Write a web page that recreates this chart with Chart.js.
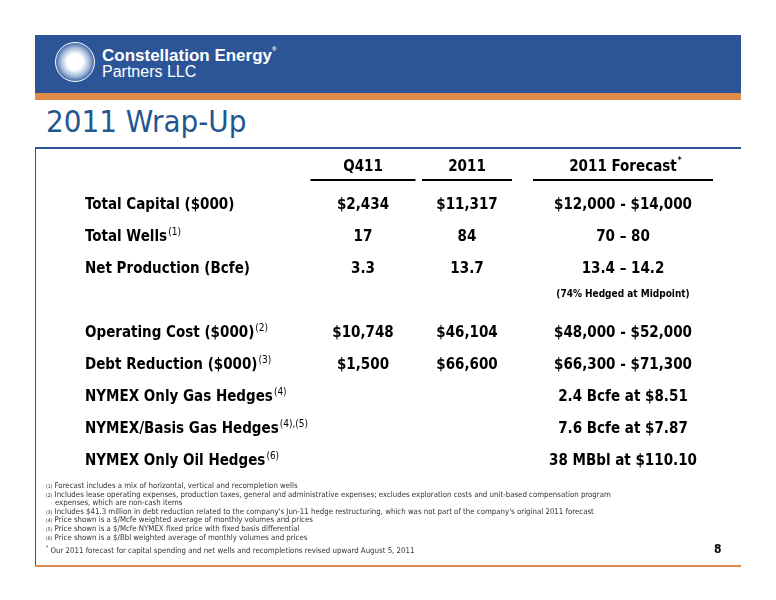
<!DOCTYPE html>
<html>
<head>
<meta charset="utf-8">
<script src="https://cdn.jsdelivr.net/npm/chart.js@4.4.0/dist/chart.umd.min.js"></script>
<style>
body { margin:0; background:#fff; font-family:"DejaVu Sans Condensed","DejaVu Sans",sans-serif; }
#slide { position:relative; width:776px; height:600px; overflow:hidden; }
.abs { position:absolute; }
#hdr { left:35px; top:35px; width:706px; height:58px; background:#2b5597; }
#stripe { left:35px; top:93px; width:706px; height:7px; background:#e08a4a; }
#title { left:46px; top:103px; font-size:31px; color:#1f5791; font-family:"DejaVu Sans Condensed","DejaVu Sans",sans-serif; }
#tline { left:35px; top:147px; width:706px; height:2px; background:#2b5597; }
#lborder { left:35px; top:149px; width:1px; height:417px; background:#2b5597; }
#bline { left:35px; top:565px; width:706px; height:2px; background:#e08a4a; }
#logo { left:55px; top:42px; width:40px; height:40px; border-radius:50%; border:1.5px solid #fff; box-sizing:border-box;
  background:radial-gradient(circle,#fff 0,#fff 30%,#9db4d8 55%,#2b5597 75%); }
#brand1 { left:102px; top:46px; color:#fff; font:bold 17px "Liberation Sans",Arial,sans-serif; }
#brand2 { left:102px; top:63px; color:#fff; font:16px "Liberation Sans",Arial,sans-serif; }
#notes { left:46px; top:482px; font-size:7.8px; line-height:8.6px; color:#333; font-family:"DejaVu Sans Condensed",sans-serif; }
#notes sup { font-size:5px; vertical-align:top; }
#star { left:46px; top:544px; font-size:7.8px; color:#333; font-family:"DejaVu Sans Condensed",sans-serif; }
#pg { left:714px; top:542px; font:bold 12px "DejaVu Sans Condensed",sans-serif; color:#000; }
canvas { position:absolute; left:0; top:0; }
</style>
</head>
<body>
<div id="slide">
  <div class="abs" id="hdr"></div>
  <div class="abs" id="stripe"></div>
  <div class="abs" id="logo"></div>
  <div class="abs" id="brand1">Constellation Energy<span style="font-size:6px;vertical-align:top">&reg;</span></div>
  <div class="abs" id="brand2">Partners LLC</div>
  <div class="abs" id="title">2011 Wrap-Up</div>
  <div class="abs" id="tline"></div>
  <div class="abs" id="lborder"></div>
  <div class="abs" id="bline"></div>
  <canvas id="tabla" width="776" height="600"></canvas>
  <div class="abs" id="notes">
    <sup>(1)</sup> Forecast includes a mix of horizontal, vertical and recompletion wells<br>
    <sup>(2)</sup> Includes lease operating expenses, production taxes, general and administrative expenses; excludes exploration costs and unit-based compensation program<br>
    &nbsp;&nbsp;&nbsp;&nbsp;expenses, which are non-cash items<br>
    <sup>(3)</sup> Includes $41.3 million in debt reduction related to the company's Jun-11 hedge restructuring, which was not part of the company's original 2011 forecast<br>
    <sup>(4)</sup> Price shown is a $/Mcfe weighted average of monthly volumes and prices<br>
    <sup>(5)</sup> Price shown is a $/Mcfe NYMEX fixed price with fixed basis differential<br>
    <sup>(6)</sup> Price shown is a $/Bbl weighted average of monthly volumes and prices
  </div>
  <div class="abs" id="star"><sup style="font-size:5px">*</sup> Our 2011 forecast for capital spending and net wells and recompletions revised upward August 5, 2011</div>
  <div class="abs" id="pg">8</div>
</div>
<script>
var columnas = ['Q411', '2011', '2011 Forecast', ''];
var filas = ['Total Capital ($000)', 'Total Wells', 'Net Production (Bcfe)', '', 'Operating Cost ($000)',
             'Debt Reduction ($000)', 'NYMEX Only Gas Hedges', 'NYMEX/Basis Gas Hedges', 'NYMEX Only Oil Hedges'];
var notasFila = ['', '(1)', '', '', '(2)', '(3)', '(4)', '(4),(5)', '(6)'];
var valoresQ411 = ['$2,434', '17', '3.3', '', '$10,748', '$1,500', '', '', ''];
var valores2011 = ['$11,317', '84', '13.7', '', '$46,104', '$66,600', '', '', ''];
var valoresForecast = ['$12,000 - $14,000', '70 \u2013 80', '13.4 \u2013 14.2', '(74% Hedged at Midpoint)',
                       '$48,000 - $52,000', '$66,300 - $71,300', '2.4 Bcfe at $8.51', '7.6 Bcfe at $7.87', '38 MBbl at $110.10'];

var FUENTE = '"DejaVu Sans Condensed","DejaVu Sans",sans-serif';

var tablaPlugin = {
    id: 'tablaTexto',
    afterDraw: function(chart) {
        var ctx = chart.ctx;
        var xs = chart.scales.x, ys = chart.scales.y;
        var cols = [xs.getPixelForValue(0), xs.getPixelForValue(1),
                    (xs.getPixelForValue(2) + xs.getPixelForValue(3)) / 2];
        var ancho = [105, 90, 180];
        var yHead = ys.getPixelForValue(0) - 38;
        ctx.save();
        ctx.fillStyle = '#000';
        ctx.textBaseline = 'middle';
        ctx.textAlign = 'center';
        ctx.font = 'bold 15px ' + FUENTE;
        [columnas[0], columnas[1], columnas[2]].forEach(function(c, i) {
            ctx.fillText(c, cols[i], yHead);
            ctx.fillRect(cols[i] - ancho[i] / 2, yHead + 12, ancho[i], 2);
        });
        var wF = ctx.measureText(columnas[2]).width;
        ctx.font = 'bold 8px ' + FUENTE;
        ctx.textAlign = 'left';
        ctx.fillText('*', cols[2] + wF / 2 + 1, yHead - 6);

        filas.forEach(function(f, i) {
            var y = ys.getPixelForValue(i);
            ctx.textAlign = 'left';
            ctx.font = 'bold 15px ' + FUENTE;
            ctx.fillText(f, 85, y);
            if (notasFila[i]) {
                var w = ctx.measureText(f).width;
                ctx.font = '10px ' + FUENTE;
                ctx.fillText(notasFila[i], 86 + w, y - 5);
            }
            ctx.textAlign = 'center';
            ctx.font = 'bold 15px ' + FUENTE;
            ctx.fillText(valoresQ411[i], cols[0], y);
            ctx.fillText(valores2011[i], cols[1], y);
            if (filas[i] === '') {
                ctx.font = 'bold 10px ' + FUENTE;
                ctx.fillText(valoresForecast[i], cols[2], y - 7);
            } else {
                ctx.fillText(valoresForecast[i], cols[2], y);
            }
        });
        ctx.restore();
    }
};

new Chart(document.getElementById('tabla').getContext('2d'), {
    type: 'bar',
    plugins: [tablaPlugin],
    data: { labels: columnas, datasets: [{ data: [], yAxisID: 'y' }] },
    options: {
        responsive: false,
        animation: false,
        layout: { padding: { left: 311, right: 49, top: 189, bottom: 123 } },
        plugins: { legend: { display: false }, tooltip: { enabled: false } },
        scales: {
            x: { type: 'category', labels: columnas, offset: true, display: false },
            y: { type: 'category', labels: filas, offset: true, display: false }
        }
    }
});
</script>
</body>
</html>
